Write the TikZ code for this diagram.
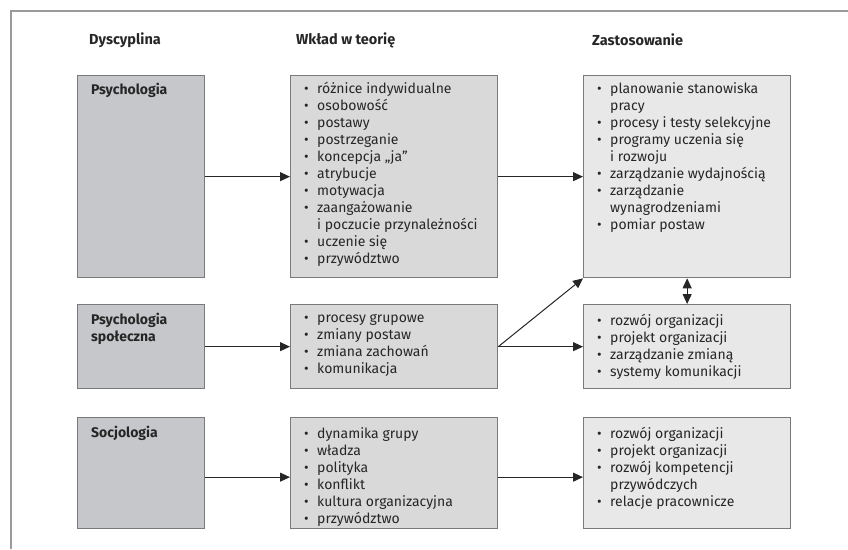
\documentclass[tikz,border=0pt]{standalone}
\usepackage{fontspec}
\setmainfont{Fira Sans}
\usepackage{xcolor}
\usetikzlibrary{arrows.meta}
\definecolor{psDark}{HTML}{C5C7CA}
\definecolor{psMid}{HTML}{D9D9D9}
\definecolor{psLight}{HTML}{E8E8E8}
\definecolor{psEdge}{HTML}{7A7A7A}
\definecolor{psFrame}{HTML}{9A9A9A}
\definecolor{psInk}{HTML}{262626}
\newcommand{\pkt}{\makebox[13pt][l]{\textbullet}}
\newcommand{\dal}{\hspace*{13pt}}

\begin{document}
\begin{tikzpicture}[
  x=1pt, y=-1pt,
  font=\fontsize{14}{17}\selectfont, text=psInk,
  box/.style={rectangle, draw=psEdge, line width=1.3pt, anchor=north west, inner sep=0pt},
  dbox/.style={box, fill=psDark, minimum width=127pt},
  wbox/.style={box, fill=psMid, minimum width=207pt},
  zbox/.style={box, fill=psLight, minimum width=207pt},
  lista/.style={anchor=north west, inner sep=0pt, align=left},
  nazwa/.style={lista, font=\fontsize{14}{17}\selectfont\bfseries},
  head/.style={anchor=west, inner sep=0pt, font=\fontsize{14.5}{17}\selectfont\bfseries},
  arr/.style={-{Triangle[length=10pt, width=9pt]}, line width=1pt, draw=psInk},
  dbl/.style={{Triangle[length=10pt, width=9pt]}-{Triangle[length=10pt, width=9pt]}, line width=1pt, draw=psInk},
]
\useasboundingbox (0,0) rectangle (848,549);

% ── frame and column titles ─────────────────────────────────────────────
\draw[psFrame, line width=1.5pt] (11,549) -- (11,11) -- (848,11);
\node[head] (hdys) at (89,40)  {Dyscyplina};
\node[head] (hwkl) at (296,40) {Wkład w teorię};
\node[head] (hzas) at (592,40) {Zastosowanie};

% ── boxes: discipline / contribution / application ──────────────────────
\node[dbox, minimum height=202pt] (dpsy) at (77,75)  {};
\node[dbox, minimum height=84pt]  (dspo) at (77,304) {};
\node[dbox, minimum height=111pt] (dsoc) at (77,417) {};

\node[wbox, minimum height=202pt] (wpsy) at (290,75)  {};
\node[wbox, minimum height=84pt]  (wspo) at (290,304) {};
\node[wbox, minimum height=111pt] (wsoc) at (290,417) {};

\node[zbox, minimum height=202pt] (zpsy) at (583,75)  {};
\node[zbox, minimum height=84pt]  (zspo) at (583,304) {};
\node[zbox, minimum height=111pt] (zsoc) at (583,417) {};

% ── texts in the boxes ──────────────────────────────────────────────────
\node[nazwa] (tpsy) at ([xshift=14pt,yshift=-8pt]dpsy.north west) {Psychologia};
\node[nazwa] (tspo) at ([xshift=14pt,yshift=-9pt]dspo.north west) {Psychologia\\społeczna};
\node[nazwa] (tsoc) at ([xshift=14pt,yshift=-9pt]dsoc.north west) {Socjologia};

\node[lista] (lwpsy) at ([xshift=14pt,yshift=-7pt]wpsy.north west) {%
  \pkt różnice indywidualne\\
  \pkt osobowość\\
  \pkt postawy\\
  \pkt postrzeganie\\
  \pkt koncepcja „ja”\\
  \pkt atrybucje\\
  \pkt motywacja\\
  \pkt zaangażowanie\\
  \dal i poczucie przynależności\\
  \pkt uczenie się\\
  \pkt przywództwo};
\node[lista] (lwspo) at ([xshift=14pt,yshift=-10pt]wspo.north west) {%
  \pkt procesy grupowe\\
  \pkt zmiany postaw\\
  \pkt zmiana zachowań\\
  \pkt komunikacja};
\node[lista] (lwsoc) at ([xshift=14pt,yshift=-10pt]wsoc.north west) {%
  \pkt dynamika grupy\\
  \pkt władza\\
  \pkt polityka\\
  \pkt konflikt\\
  \pkt kultura organizacyjna\\
  \pkt przywództwo};

\node[lista] (lzpsy) at ([xshift=14pt,yshift=-7pt]zpsy.north west) {%
  \pkt planowanie stanowiska\\
  \dal pracy\\
  \pkt procesy i testy selekcyjne\\
  \pkt programy uczenia się\\
  \dal i rozwoju\\
  \pkt zarządzanie wydajnością\\
  \pkt zarządzanie\\
  \dal wynagrodzeniami\\
  \pkt pomiar postaw};
\node[lista] (lzspo) at ([xshift=14pt,yshift=-10pt]zspo.north west) {%
  \pkt rozwój organizacji\\
  \pkt projekt organizacji\\
  \pkt zarządzanie zmianą\\
  \pkt systemy komunikacji};
\node[lista] (lzsoc) at ([xshift=14pt,yshift=-10pt]zsoc.north west) {%
  \pkt rozwój organizacji\\
  \pkt projekt organizacji\\
  \pkt rozwój kompetencji\\
  \dal przywódczych\\
  \pkt relacje pracownicze};

% ── connectors ──────────────────────────────────────────────────────────
\draw[arr] (dpsy) -- (wpsy);
\draw[arr] (wpsy) -- (zpsy);
\draw[arr] (dspo) -- (wspo);
\draw[arr] (wspo) -- (zspo);
\draw[arr] (wspo.east) -- (zpsy.south west);
\draw[arr] ([yshift=-4pt]dsoc.east) -- ([yshift=-4pt]wsoc.west);
\draw[arr] ([yshift=-4pt]wsoc.east) -- ([yshift=-4pt]zsoc.west);
\draw[dbl] (zpsy) -- (zspo);

\end{tikzpicture}
\end{document}
